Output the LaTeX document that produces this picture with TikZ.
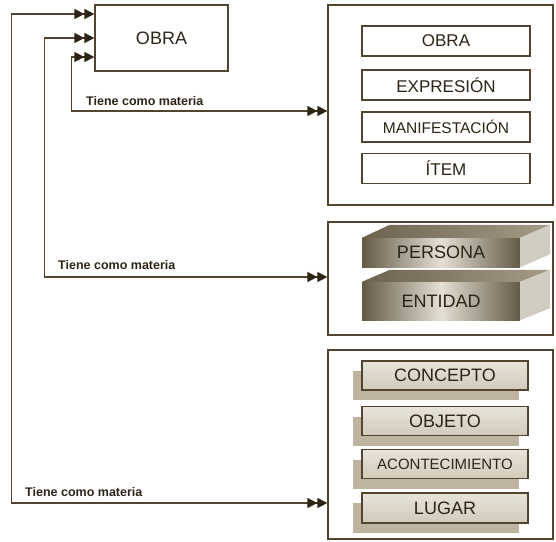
\documentclass[tikz,border=0pt]{standalone}
\usepackage{fontspec}
\setmainfont{Liberation Sans}
\usetikzlibrary{arrows.meta,shadows}
\definecolor{ln}{RGB}{82,68,48}
\definecolor{tipc}{RGB}{45,36,22}
\definecolor{txt}{RGB}{45,36,24}
\definecolor{bdark}{RGB}{100,89,69}
\definecolor{blight}{RGB}{228,224,212}
\definecolor{topdark}{RGB}{108,98,78}
\definecolor{toplight}{RGB}{165,155,135}
\definecolor{sidec}{RGB}{208,204,194}
\definecolor{tanfill}{RGB}{210,202,186}
\definecolor{tanlight}{RGB}{232,228,218}
\definecolor{shadowc}{RGB}{190,180,160}
\tikzset{
  dbl/.tip={Triangle[length=10pt,width=10pt,color=tipc]Triangle[length=10pt,width=10pt,color=tipc]},
  conn/.style={draw=ln, line width=1.4pt, {dbl}-{dbl}},
  frame/.style={draw=ln, line width=1.3pt, rectangle, inner sep=0pt},
  plainbox/.style={draw=ln, line width=1.4pt, fill=white, rectangle, inner sep=0pt,
    minimum width=168pt, minimum height=30pt, text=txt, font=\fontsize{17}{17}\selectfont},
  barfront/.style={rectangle, inner sep=0pt, minimum width=158pt, text=txt,
    left color=bdark, right color=bdark, middle color=blight, font=\fontsize{18}{18}\selectfont},
  shadbox/.style={draw=ln, line width=1.4pt, rectangle, inner sep=0pt,
    minimum width=166pt, minimum height=29pt, text=txt,
    top color=tanlight, bottom color=tanfill, font=\fontsize{18}{18}\selectfont,
    general shadow={fill=shadowc, shadow xshift=-9pt, shadow yshift=-10pt}},
  lbl/.style={anchor=west, text=txt, inner sep=0pt, font=\bfseries\fontsize{12.5}{12.5}\selectfont}
}
\begin{document}
\begin{tikzpicture}[x=1pt,y=-1pt]
\useasboundingbox (0,0) rectangle (556,541);
% main OBRA box
\node[frame, minimum width=133pt, minimum height=66pt, text=txt,
      font=\fontsize{18}{18}\selectfont] (obra) at (161.5,38) {OBRA};
% containers
\node[frame, minimum width=225pt, minimum height=200pt] (c1) at (440.5,105) {};
\node[frame, minimum width=225pt, minimum height=113pt] (c2) at (440.5,278.5) {};
\node[frame, minimum width=225pt, minimum height=189pt] (c3) at (440.5,444.5) {};
% container 1 items
\node[plainbox] (i1) at (446,41) {OBRA};
\node[plainbox] (i2) at (446,85) {EXPRESIÓN};
\node[plainbox, font=\fontsize{15.5}{15.5}\selectfont] (i3) at (446,127) {MANIFESTACIÓN};
\node[plainbox] (i4) at (446,168.5) {ÍTEM};
% container 2 bars
\node[barfront, minimum height=29pt] (p1) at (441,252.5) {PERSONA};
\shade[left color=topdark, right color=toplight]
  (p1.north west) -- ([shift={(28,-13)}]p1.north west) -- ([shift={(30,-13)}]p1.north east) -- (p1.north east) -- cycle;
\fill[sidec]
  (p1.north east) -- ([shift={(30,-13)}]p1.north east) -- ([shift={(30,-13)}]p1.south east) -- (p1.south east) -- cycle;
\node[barfront, minimum height=38pt] (p2) at (441,301) {ENTIDAD};
\shade[left color=topdark, right color=toplight]
  (p2.north west) -- ([shift={(28,-12)}]p2.north west) -- ([shift={(30,-12)}]p2.north east) -- (p2.north east) -- cycle;
\fill[sidec]
  (p2.north east) -- ([shift={(30,-12)}]p2.north east) -- ([shift={(30,-12)}]p2.south east) -- (p2.south east) -- cycle;
% container 3 items
\node[shadbox] (s1) at (445,375.5) {CONCEPTO};
\node[shadbox] (s2) at (445,421) {OBJETO};
\node[shadbox, font=\fontsize{15}{15}\selectfont] (s3) at (445,464) {ACONTECIMIENTO};
\node[shadbox, minimum height=30pt] (s4) at (445,508) {LUGAR};
% connectors
\draw[conn] ([yshift=-19pt]obra.west) -- ++(-23,0) |- ([yshift=-6pt]c1.west);
\draw[conn] (obra.west) -- ++(-50,0) |- ([yshift=1.5pt]c2.west);
\draw[conn] ([yshift=24pt]obra.west) -- ++(-83,0) |- ([yshift=-58.5pt]c3.west);
% labels
\node[lbl] (l1) at (86,101) {Tiene como materia};
\node[lbl] (l2) at (58,265) {Tiene como materia};
\node[lbl] (l3) at (25,492) {Tiene como materia};
\end{tikzpicture}
\end{document}
